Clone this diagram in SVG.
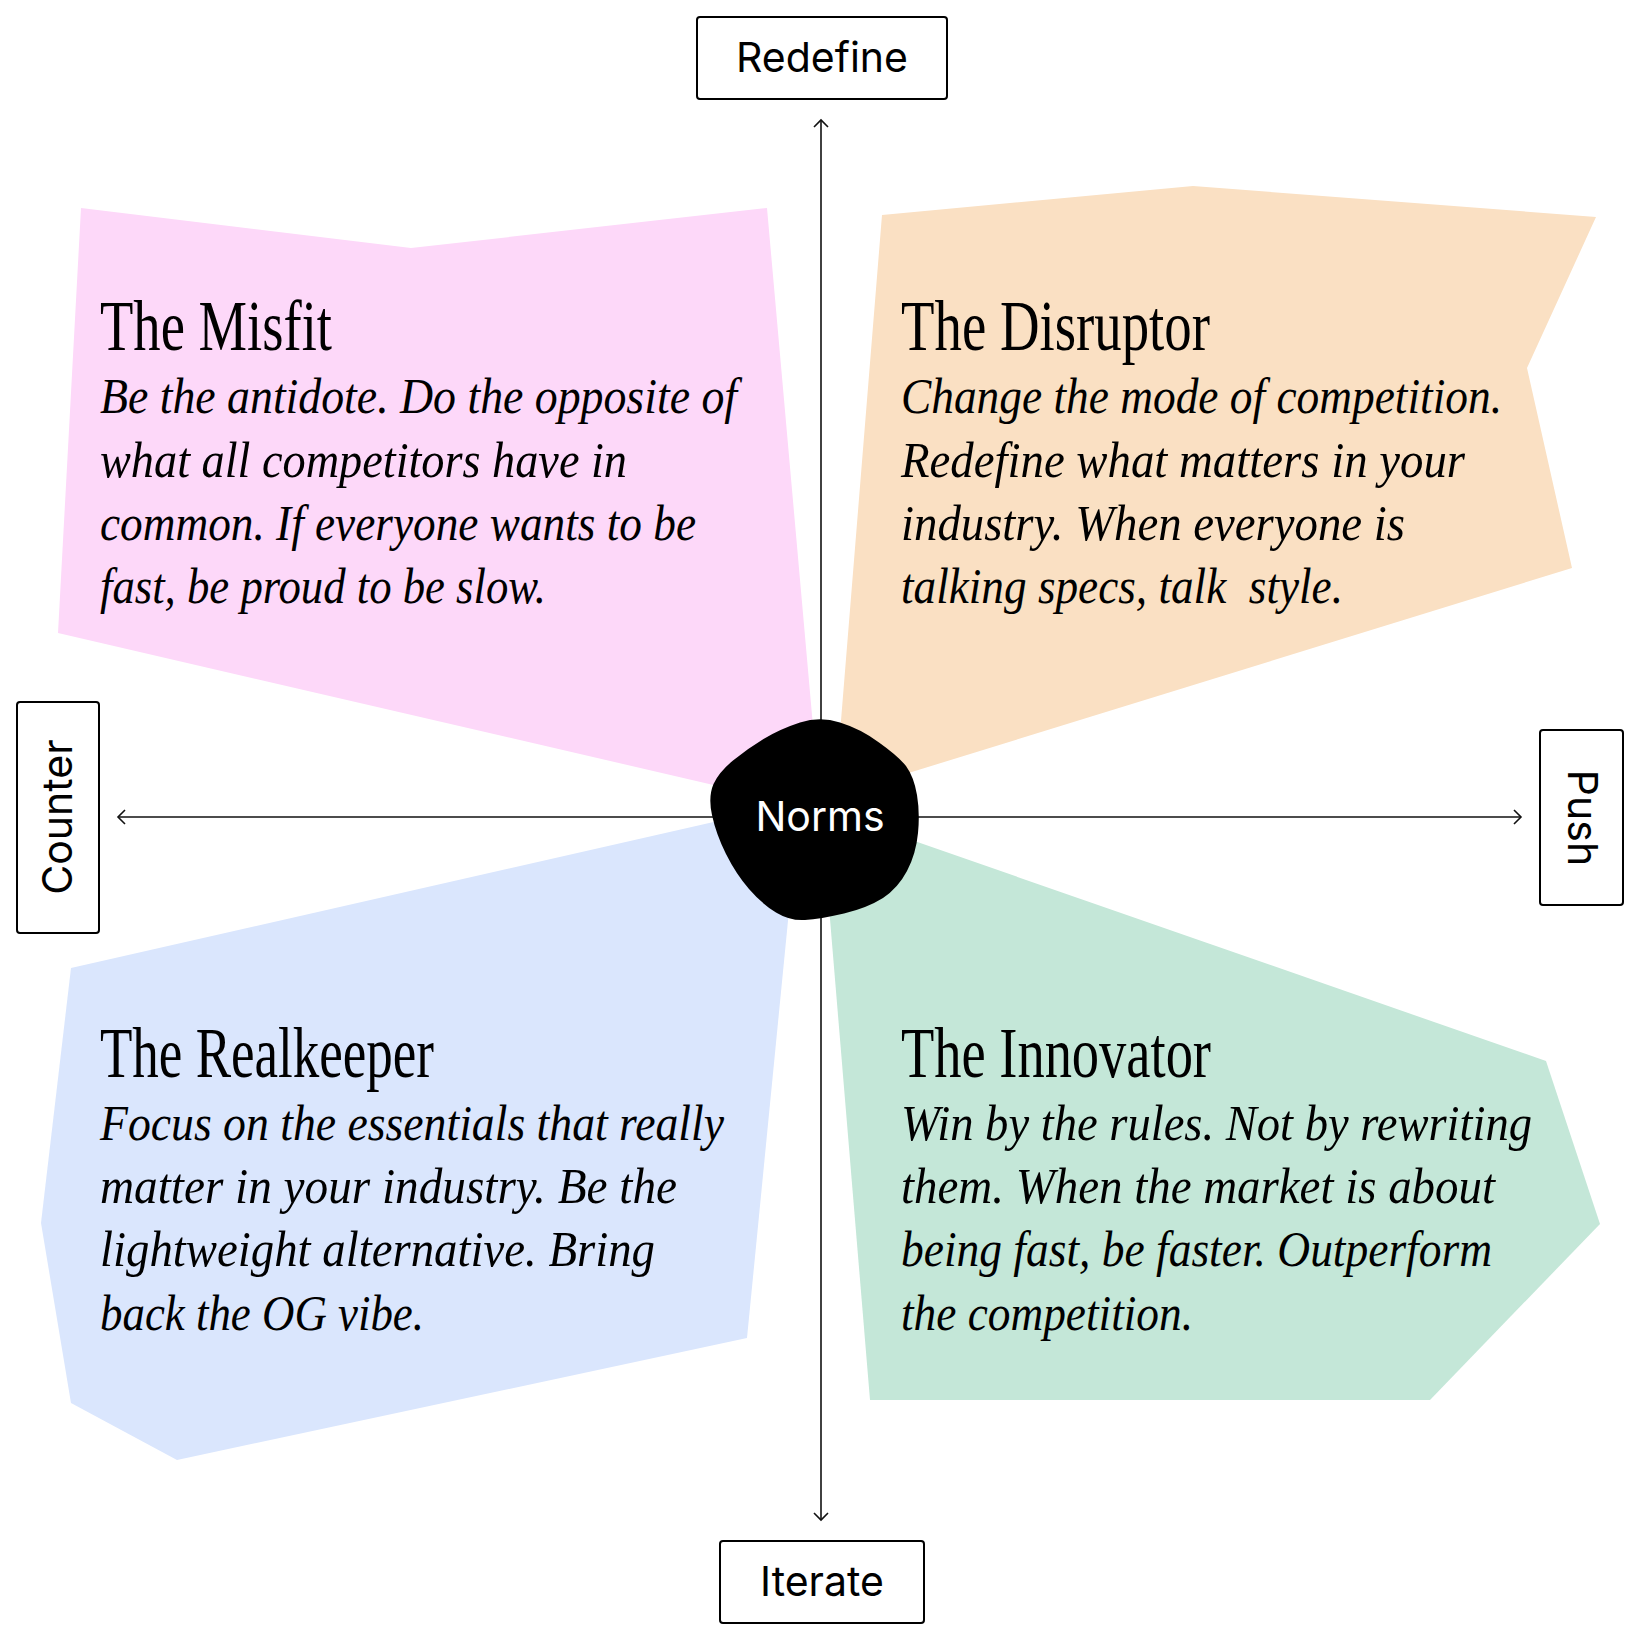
<svg xmlns="http://www.w3.org/2000/svg" width="1640" height="1640" viewBox="0 0 1640 1640">
<defs>
<style>
.title{font-family:"Liberation Serif","Times New Roman",serif;font-size:72px;fill:#000;}
.body{font-family:"Liberation Serif","Times New Roman",serif;font-style:italic;font-size:50px;fill:#000;}
.lbl{font-family:Inter,"Liberation Sans",Arial,sans-serif;font-size:41px;fill:#000;}
.box{fill:#fff;stroke:#000;stroke-width:2;}
.axis{stroke:#111;stroke-width:1.6;fill:none;}
</style>
<marker id="arr" viewBox="-10 -10 20 20" markerWidth="20" markerHeight="20" markerUnits="userSpaceOnUse" refX="0" refY="0" orient="auto-start-reverse">
<path d="M-7,-7 L0,0 L-7,7" fill="none" stroke="#111" stroke-width="1.6"/>
</marker>
</defs>
<rect width="1640" height="1640" fill="#fff"/>

<g id="misfit">
<polygon points="81,208 411,248 767,208 816,760 800,805 58,633" fill="#fdd8f9"/>
<text class="title" x="100" y="350" textLength="232" lengthAdjust="spacingAndGlyphs">The Misfit</text>
<text class="body" x="100" y="413" textLength="637" lengthAdjust="spacingAndGlyphs">Be the antidote. Do the opposite of</text>
<text class="body" x="100" y="477" textLength="527" lengthAdjust="spacingAndGlyphs">what all competitors have in</text>
<text class="body" x="100" y="540" textLength="596" lengthAdjust="spacingAndGlyphs">common. If everyone wants to be</text>
<text class="body" x="100" y="603" textLength="446" lengthAdjust="spacingAndGlyphs">fast, be proud to be slow.</text>
</g>

<g id="disruptor">
<polygon points="882,215 1193,186 1596,217 1527,368 1572,568 860,788 837,770" fill="#fae0c3"/>
<text class="title" x="901" y="350" textLength="309" lengthAdjust="spacingAndGlyphs">The Disruptor</text>
<text class="body" x="901" y="413" textLength="601" lengthAdjust="spacingAndGlyphs">Change the mode of competition.</text>
<text class="body" x="901" y="477" textLength="564" lengthAdjust="spacingAndGlyphs">Redefine what matters in your</text>
<text class="body" x="901" y="540" textLength="504" lengthAdjust="spacingAndGlyphs">industry. When everyone is</text>
<text class="body" x="901" y="603" textLength="442" lengthAdjust="spacingAndGlyphs" xml:space="preserve">talking specs, talk  style.</text>
</g>

<g id="realkeeper">
<polygon points="71,968 740,816 792,880 747,1338 177,1460 71,1403 41,1223" fill="#dae6fd"/>
<text class="title" x="100" y="1077" textLength="334" lengthAdjust="spacingAndGlyphs">The Realkeeper</text>
<text class="body" x="100" y="1140" textLength="624" lengthAdjust="spacingAndGlyphs">Focus on the essentials that really</text>
<text class="body" x="100" y="1203" textLength="577" lengthAdjust="spacingAndGlyphs">matter in your industry. Be the</text>
<text class="body" x="100" y="1266" textLength="555" lengthAdjust="spacingAndGlyphs">lightweight alternative. Bring</text>
<text class="body" x="100" y="1330" textLength="324" lengthAdjust="spacingAndGlyphs">back the OG vibe.</text>
</g>

<g id="innovator">
<polygon points="880,829 1546,1061 1600,1224 1430,1400 870,1400 828,895" fill="#c4e7d8"/>
<text class="title" x="901" y="1077" textLength="310" lengthAdjust="spacingAndGlyphs">The Innovator</text>
<text class="body" x="901" y="1140" textLength="631" lengthAdjust="spacingAndGlyphs">Win by the rules. Not by rewriting</text>
<text class="body" x="901" y="1203" textLength="594" lengthAdjust="spacingAndGlyphs">them. When the market is about</text>
<text class="body" x="901" y="1266" textLength="591" lengthAdjust="spacingAndGlyphs">being fast, be faster. Outperform</text>
<text class="body" x="901" y="1330" textLength="292" lengthAdjust="spacingAndGlyphs">the competition.</text>
</g>

<g id="connectors">
<line class="axis" x1="821" y1="1520" x2="821" y2="120" marker-start="url(#arr)" marker-end="url(#arr)"/>
<line class="axis" x1="118" y1="817" x2="1521" y2="817" marker-start="url(#arr)" marker-end="url(#arr)"/>
</g>

<g id="norms">
<path d="M763.5,739 Q780,729 800,722.5 Q820,716 840,722.5 Q861,729 879,742.5 Q898,756 906,766 Q914,777 917,795 Q920,813 918,833 Q916,854 907,871 Q898,888 883,898 Q867,908 844,913.5 Q820,919 805,920 Q790,921 776,912.5 Q762,904 749,889 Q736,874 726,854 Q716,834 712,815 Q708,797 713.5,784 Q719,772 733,760.5 Q747,749 763.5,739 Z" fill="#000"/>
<text class="lbl" x="820" y="831" text-anchor="middle" style="fill:#fff">Norms</text>
</g>

<g id="redefine">
<rect class="box" x="697" y="17" width="250" height="82" rx="3"/>
<text class="lbl" x="822" y="72" text-anchor="middle">Redefine</text>
</g>

<g id="iterate">
<rect class="box" x="720" y="1541" width="204" height="82" rx="3"/>
<text class="lbl" x="822" y="1596" text-anchor="middle">Iterate</text>
</g>

<g id="counter">
<rect class="box" x="17" y="702" width="82" height="231" rx="3"/>
<text class="lbl" transform="translate(72,817) rotate(-90)" text-anchor="middle">Counter</text>
</g>

<g id="push">
<rect class="box" x="1540" y="730" width="83" height="175" rx="3"/>
<text class="lbl" transform="translate(1568,818) rotate(90)" text-anchor="middle">Push</text>
</g>
</svg>
